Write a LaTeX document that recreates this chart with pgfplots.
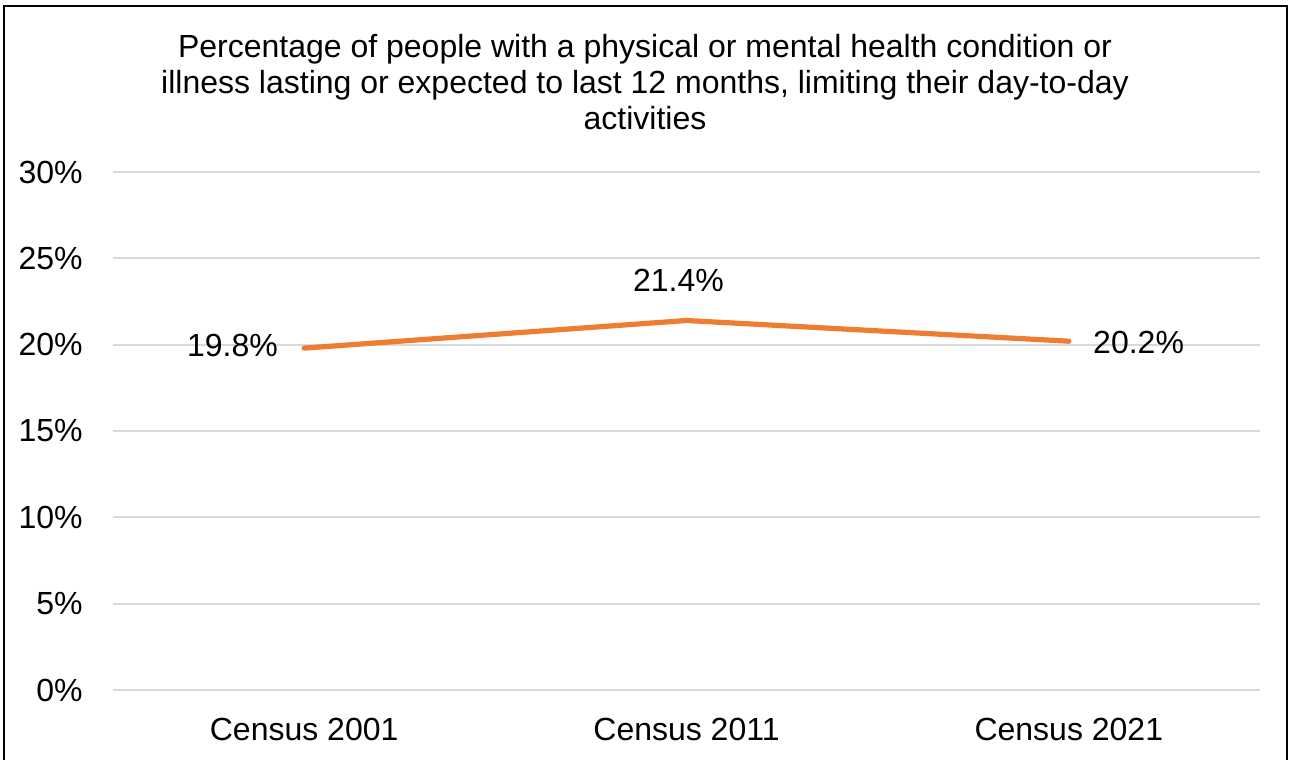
\documentclass[border=0pt]{standalone}
\usepackage{fontspec}
\setmainfont{Liberation Sans}
\usepackage{pgfplots}
\pgfplotsset{compat=1.18}
\definecolor{lineorange}{HTML}{ED7D31}
\definecolor{gridgray}{HTML}{D9D9D9}
\begin{document}
\begin{tikzpicture}
\path[use as bounding box] (0,0) rectangle (645pt,380pt);
\draw[black, line width=1pt] (2pt,-1pt) -- (2pt,377pt) -- (643.5pt,377pt) -- (643.5pt,-1pt);
\node[align=center, font=\fontsize{16pt}{17.9pt}\selectfont, anchor=north, inner sep=0pt] at (322.5pt,362.8pt)
 {Percentage of people with a physical or mental health condition or\\illness lasting or expected to last 12 months, limiting their day-to-day\\activities};
\coordinate (org) at (56.5pt,35pt);
\begin{axis}[
  at={(org)}, anchor=south west,
  scale only axis, width=573.5pt, height=259pt,
  xmin=-0.5, xmax=2.5, ymin=0, ymax=30,
  xtick={0,1,2}, xticklabels={Census 2001,Census 2011,Census 2021},
  ytick={0,5,10,15,20,25,30},
  yticklabel={\pgfmathprintnumber{\tick}\%},
  /pgf/number format/assume math mode=true,
  major tick length=0pt,
  axis line style={draw=none},
  ymajorgrids, grid style={gridgray, line width=1pt},
  tick label style={font=\fontsize{16pt}{19pt}\selectfont, inner sep=0pt},
  yticklabel style={anchor=east, xshift=-15pt},
  xticklabel style={anchor=north, yshift=-14pt},
  clip=false,
  nodes near coords style={font=\fontsize{16pt}{19pt}\selectfont, inner sep=0pt, text=black},
]
\addplot[lineorange, line width=2.6pt, line cap=round, line join=round] coordinates {(0,19.8) (1,21.4) (2,20.2)};
\addplot[draw=none, nodes near coords={\pgfmathprintnumber[fixed,fixed zerofill,precision=1]{\pgfplotspointmeta}\%},
  nodes near coords style={anchor=east, xshift=-13pt, yshift=1.5pt}] coordinates {(0,19.8)};
\addplot[draw=none, nodes near coords={\pgfmathprintnumber[fixed,fixed zerofill,precision=1]{\pgfplotspointmeta}\%},
  nodes near coords style={anchor=south, xshift=-4pt, yshift=14pt}] coordinates {(1,21.4)};
\addplot[draw=none, nodes near coords={\pgfmathprintnumber[fixed,fixed zerofill,precision=1]{\pgfplotspointmeta}\%},
  nodes near coords style={anchor=west, xshift=12pt, yshift=-0.5pt}] coordinates {(2,20.2)};
\end{axis}
\end{tikzpicture}
\end{document}
